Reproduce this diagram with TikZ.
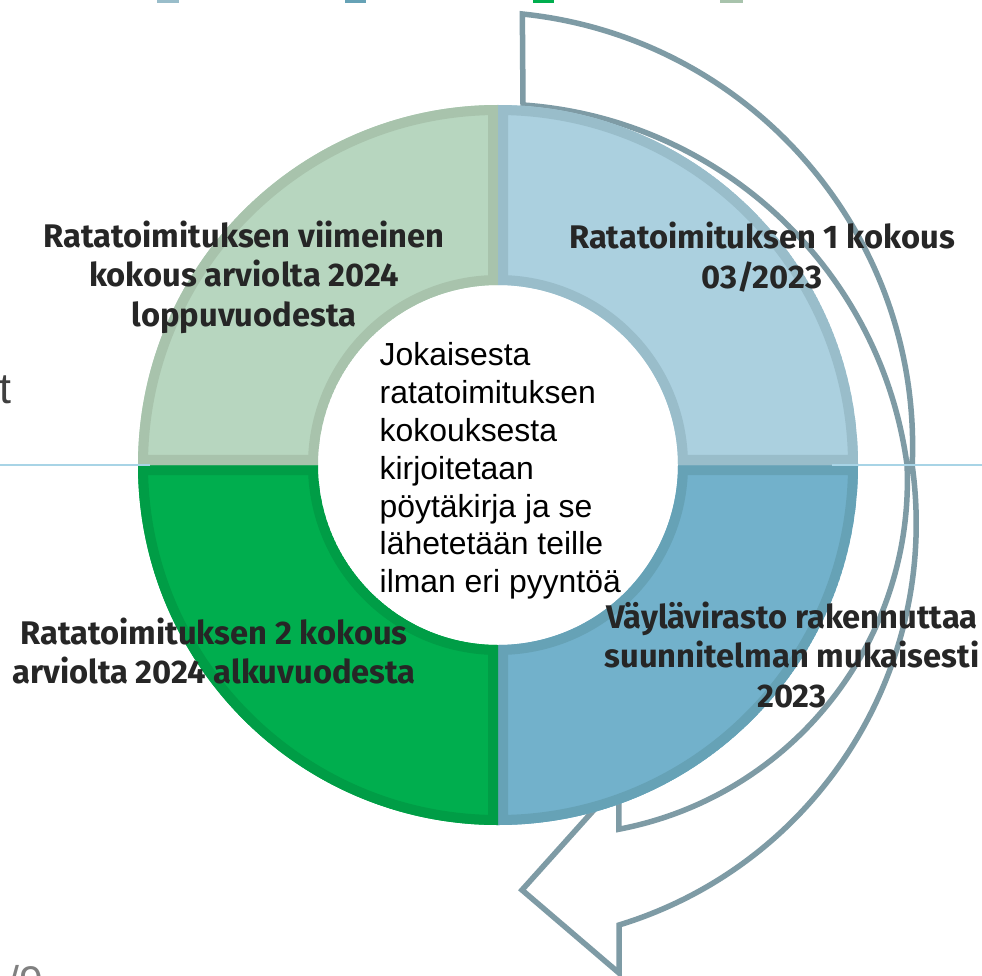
\documentclass[tikz,border=0pt]{standalone}
\usepackage{fontspec}
\setmainfont{Liberation Sans}
\newfontfamily\phasefont{Fira Sans}
\usetikzlibrary{calc}

\definecolor{trfill}{HTML}{ABD0DF}
\definecolor{trline}{HTML}{99BDCA}
\definecolor{brfill}{HTML}{72B1CB}
\definecolor{brline}{HTML}{66A2B6}
\definecolor{blfill}{HTML}{00AE4E}
\definecolor{blline}{HTML}{009D46}
\definecolor{tlfill}{HTML}{B7D6BF}
\definecolor{tlline}{HTML}{A8C3AC}
\definecolor{arrowgray}{HTML}{7E9BA5}
\definecolor{guideblue}{HTML}{A8D4E6}
\definecolor{phasetext}{HTML}{262626}

% one quarter of the ring, starting at angle #1
\newcommand{\ringpart}[1]{(mid) ++(#1:180) -- ++(#1:180) arc[start angle=#1, end angle=#1+90, radius=360] -- ([shift={(#1+90:180)}]mid) arc[start angle=#1+90, end angle=#1, radius=180] -- cycle}

\begin{document}
\begin{tikzpicture}[
  x=0.01cm, y=-0.01cm,
  phase/.style={font=\phasefont\bfseries\fontsize{9.3}{11.2}\selectfont, text=phasetext, align=center, inner sep=0pt},
  note/.style={font=\fontsize{9.07}{10.75}\selectfont, align=left, inner sep=0pt},
  loop arrow/.style={draw=arrowgray, line width=0.055cm, line join=miter},
  guide/.style={draw=guideblue, line width=0.015cm},
  slide text/.style={font=\fontsize{12.2}{14}\selectfont, inner sep=0pt}
]
\fill[white] (0,0) rectangle (982,976);
\useasboundingbox (0,0) rectangle (982,976);

% legend marks at the top edge
\fill[trline] (157,0) rectangle (179,3);
\fill[brline] (345,0) rectangle (366,3);
\fill[blfill] (533,0) rectangle (554,3);
\fill[tlline] (720,0) rectangle (743,3);

\coordinate (mid) at (498,465);

% circular arrow behind the ring
\draw[loop arrow] (619,925)
  arc[start angle=73, end angle=-7.9, radius=420]
  arc[start angle=2.5, end angle=-84.1, radius=435]
  -- (523,105)
  arc[start angle=-86, end angle=-7.7, radius=416.9]
  arc[start angle=-2.5, end angle=79.2, radius=355]
  -- (619,782) -- (522,890) -- (619,973) -- cycle;

% the four quarters
\foreach \ang/\fillc/\linec in {0/brfill/brline, 90/blfill/blline, 180/tlfill/tlline, 270/trfill/trline}{
  \begin{scope}
    \path[clip] \ringpart{\ang};
    \filldraw[fill=\fillc, draw=\linec, line width=0.2cm] \ringpart{\ang};
  \end{scope}
}

% thin guide line
\draw[guide] (0,465) -- (150,465);
\draw[guide] (832,465) -- (982,465);

% labels
\node[phase] (lastmeeting) at (244,277) {Ratatoimituksen viimeinen\\kokous arviolta 2024\\loppuvuodesta};
\node[phase] (firstmeeting) at (762,257) {Ratatoimituksen 1 kokous\\03/2023};
\node[phase] (secondmeeting) at (214,651) {Ratatoimituksen 2 kokous\\arviolta 2024 alkuvuodesta};
\node[phase] (building) at (792,655) {Väylävirasto rakennuttaa\\suunnitelman mukaisesti\\2023};
\node[note, anchor=west] (minutes) at (379,471) {Jokaisesta\\ratatoimituksen\\kokouksesta\\kirjoitetaan\\pöytäkirja ja se\\lähetetään teille\\ilman eri pyyntöä};

% slide leftovers
\node[slide text, text=black!75, anchor=base west] (sidet) at (-1,403) {t};
\node[slide text, text=black!50, anchor=base west] (pagenum) at (7,996) {/9};
\end{tikzpicture}
\end{document}
